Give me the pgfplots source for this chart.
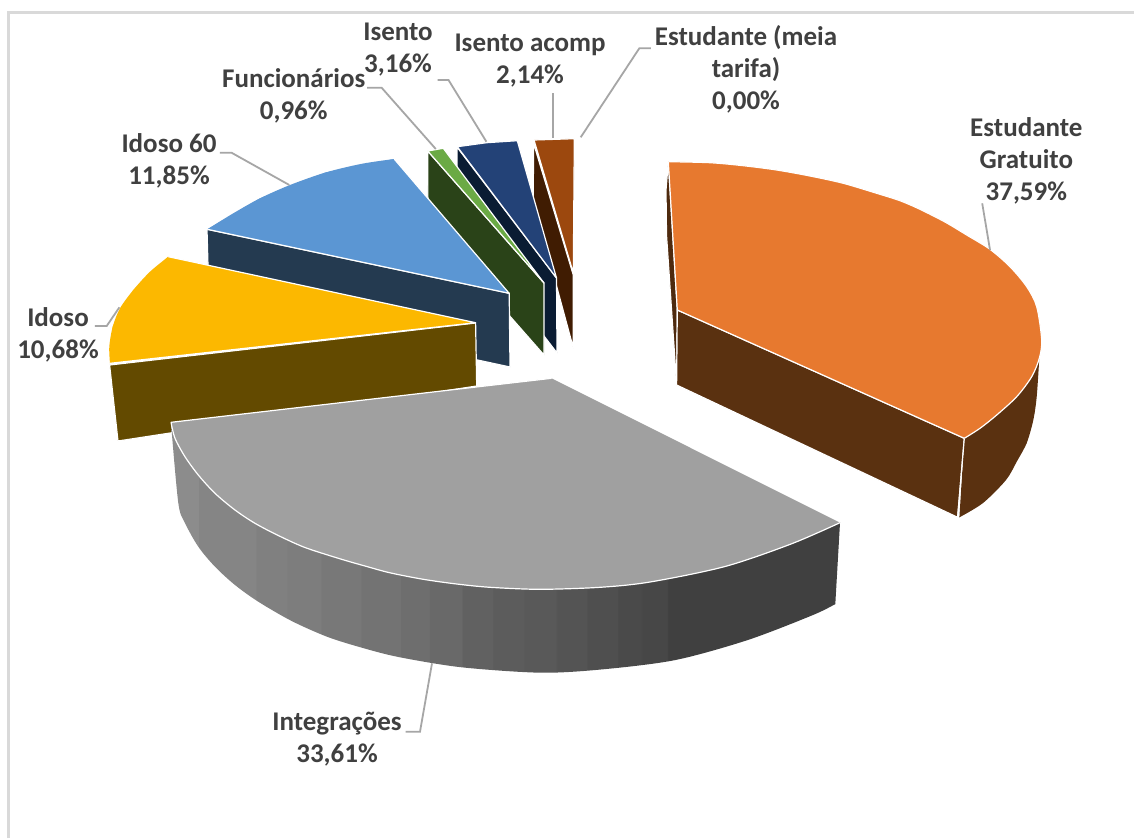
\documentclass[border=0pt]{standalone}
\usepackage{fontspec}
\setmainfont{Carlito}
\usepackage{pgfplots}
\pgfplotsset{compat=1.18}
\definecolor{txt}{HTML}{404040}
\definecolor{leader}{HTML}{A6A6A6}
\definecolor{acompSide}{HTML}{401C02}
\definecolor{acompTop}{HTML}{9C480E}
\definecolor{isentoSide}{HTML}{0A1C33}
\definecolor{isentoTop}{HTML}{234277}
\definecolor{funcSide}{HTML}{2A4318}
\definecolor{funcTop}{HTML}{6BAA45}
\definecolor{id60Side}{HTML}{243A50}
\definecolor{id60Top}{HTML}{5B96D3}
\definecolor{idosoSide}{HTML}{634A00}
\definecolor{idosoTop}{HTML}{FCB800}
\definecolor{integTop}{HTML}{A0A0A0}
\definecolor{gratSliver}{HTML}{4E2A0E}
\definecolor{gratSide}{HTML}{5A3110}
\definecolor{gratTop}{HTML}{E7792F}
% stepped grey of the rim of Integracoes
\pgfdeclarehorizontalshading{rimsh}{100bp}{
  color(0bp)=(black!45); color(27.03bp)=(black!45);
  color(27.1bp)=(black!48); color(31.36bp)=(black!48);
  color(31.43bp)=(black!50); color(33.68bp)=(black!50);
  color(33.75bp)=(black!51); color(36.26bp)=(black!51);
  color(36.33bp)=(black!53); color(39.26bp)=(black!53);
  color(39.33bp)=(black!55); color(42.25bp)=(black!55);
  color(42.32bp)=(black!57); color(44.42bp)=(black!57);
  color(44.49bp)=(black!59); color(46.88bp)=(black!59);
  color(46.95bp)=(black!62); color(49.19bp)=(black!62);
  color(49.26bp)=(black!64); color(51.5bp)=(black!64);
  color(51.57bp)=(black!65); color(53.96bp)=(black!65);
  color(54.03bp)=(black!67); color(56.27bp)=(black!67);
  color(56.34bp)=(black!69); color(58.59bp)=(black!69);
  color(58.66bp)=(black!71); color(60.36bp)=(black!71);
  color(60.43bp)=(black!72); color(62.33bp)=(black!72);
  color(62.4bp)=(black!75); color(100bp)=(black!75)}
\begin{document}
\begin{tikzpicture}[
  face/.style={fill=#1, draw=white, line width=1.2pt, line join=round},
  poly/.style={fill=#1, draw=none},
  seg/.style={smooth, fill=#1, draw=none},
  edge/.style={draw=white, line width=1.2pt, line join=round},
  lead/.style={draw=leader, line width=1.8pt},
  lab/.style={align=center, text=txt, font=\fontsize{27}{32}\selectfont\bfseries, inner sep=0pt},
]
\begin{axis}[
  scale only axis, width=1134pt, height=838pt,
  xmin=0, xmax=1134, ymin=0, ymax=838, y dir=reverse,
  hide axis,
]
% background and frame
\addplot[fill=white, draw=none] coordinates {(0,0) (1134,0) (1134,838) (0,838)} --cycle;
\addplot[draw=black!15, line width=2.5pt] coordinates {(8.5,838) (8.5,12.5) (1134,12.5)};

% Isento acomp
\addplot[face=acompSide] coordinates {(533.5,143) (573.3,275) (573.3,348) (533.3,200)} --cycle;
\addplot[face=acompTop] coordinates {(534,140) (574.3,138.7) (573.3,273)} --cycle;

% Isento
\addplot[face=isentoSide] coordinates {(457,147) (556.5,278) (557,353) (457,222)} --cycle;
\addplot[face=isentoTop] coordinates {(457.3,146.7) (486.7,142.7) (517.3,140.7) (556.5,278)} --cycle;

% Funcionarios
\addplot[face=funcSide] coordinates {(427.7,151) (544,283) (544,355) (428,223)} --cycle;
\addplot[face=funcTop] coordinates {(427.7,151) (443.3,148.3) (531.7,266.7) (544,283)} --cycle;

% Idoso 60
\addplot[face=id60Side] coordinates {(207,229.3) (509.2,293.3) (510,367) (209,302)} --cycle;
\addplot[poly=id60Top] coordinates {(207.3,229.3) (260,198.3) (325.5,172.5) (394.2,159) (509.2,293.3)} --cycle;
\addplot[seg=id60Top] coordinates {(207.3,229.3) (233.3,213.3) (260,198.3) (290,185) (325.5,172.5) (361.7,163.8) (394.2,159)};
\addplot[edge] coordinates {(394.2,159) (509.2,293.3) (207.3,229.3)};

% Idoso
\addplot[face=idosoSide] coordinates {(109.6,365) (475.6,323) (476.7,386) (118,441)} --cycle;
\addplot[poly=idosoTop] coordinates {(168.3,256.7) (133.3,290) (112.7,326.7) (110,363.3) (475.6,322.7)} --cycle;
\addplot[seg=idosoTop] coordinates {(168.3,256.7) (150,271.7) (133.3,290) (120,308.3) (112.7,326.7) (109.3,346.7) (110,363.3)};
\addplot[edge] coordinates {(168.3,256.7) (475.6,322.7) (110,363.3)};

% Integracoes, rim in one piece: curve, then its flat right end
\addplot[smooth, shading=rimsh, draw=none] coordinates {(171,423) (178.3,503) (185,523) (198.3,546.7) (215,566.7) (235,585) (258.3,601.7) (291.7,621) (327.8,637) (364,648.3) (400,657.3) (461.7,667.3) (541.2,672.7) (603,669.3) (675.5,660) (747.8,640) (813,615) (835.3,604)};
\addplot[poly=black!75] coordinates {(690,574) (840,522.7) (835.3,604) (690,656)} --cycle;
% Integracoes, top
\addplot[poly=integTop] coordinates {(551.5,378.3) (840,522.7) (725,566.5) (650,582) (540,589.3) (423.3,579.3) (340,558.8) (255,523.3) (198.3,475) (171,422.3)} --cycle;
\addplot[seg=integTop, draw=white, line width=1.2pt] coordinates {(840,522.7) (791,544) (725,566.5) (650,582) (600,587.3) (540,589.3) (490,587.3) (456.7,584) (423.3,579.3) (390,572.8) (365,566) (340,558.8) (305,547.5) (278.3,535.5) (255,523.3) (235,510) (215,493.3) (198.3,475) (185,456.7) (175,438.3) (171,422.3)};
\addplot[edge] coordinates {(171,422.3) (551.5,378.3)};

% Estudante Gratuito
\addplot[face=gratSliver] coordinates {(668.3,161.7) (677.3,310) (676.6,385) (666.5,235) (666,190)} --cycle;
\addplot[face=gratSide] coordinates {(677.3,310) (964.3,438.3) (957.6,517.3) (676.6,385)} --cycle;
\addplot[poly=gratSide] coordinates {(964.3,438.3) (1039.3,358) (1026.7,443) (959.4,517.3)} --cycle;
\addplot[seg=gratSide] coordinates {(1039.3,358) (1036.7,396.7) (1033.3,420) (1026.7,443) (1016.7,461.7) (1006,480) (983,503) (959.4,517.3)};
\addplot[edge] coordinates {(964.3,438.3) (957.6,517.3)};
\addplot[poly=gratTop] coordinates {(668.3,161.7) (776.7,170) (900,200.7) (966.7,235) (1026.7,286.7) (1041.7,340) (1016.7,396.7) (964.3,438.3) (677.3,310)} --cycle;
\addplot[seg=gratTop, draw=white, line width=1.2pt] coordinates {(668.3,161.7) (710,162.7) (743.3,165.7) (776.7,170) (810,176) (843.3,183.3) (876.7,193.3) (900,200.7) (920,209.3) (945,222) (966.7,235) (990,249.3) (1010,266.7) (1026.7,286.7) (1036.7,306.7) (1041.7,340) (1039.3,358.3) (1031.7,376.7) (1016.7,396.7) (996.7,415) (980,428.3) (964.3,438.3)};
\addplot[edge] coordinates {(964.3,438.3) (677.3,310) (668.3,161.7)};

% leader lines
\addplot[lead] coordinates {(982.2,203.3) (990,250)};
\addplot[lead] coordinates {(650.9,48.3) (639.3,48.3) (580.7,137.3)};
\addplot[lead] coordinates {(553.3,93.3) (553.3,138.3)};
\addplot[lead] coordinates {(437.6,80) (448.5,80) (486.4,141.7)};
\addplot[lead] coordinates {(367,87.7) (381.6,87.7) (435.8,149)};
\addplot[lead] coordinates {(219.9,152.7) (231.5,152.7) (289.3,185)};
\addplot[lead] coordinates {(94.8,326) (106.7,326) (119.4,307.3)};
\addplot[lead] coordinates {(405.6,731.7) (420,731.7) (432,663.3)};

% labels
\node[lab] at (axis cs:1026.3,161) {Estudante\\Gratuito\\37,59\%};
\node[lab] at (axis cs:746,69) {Estudante (meia\\tarifa)\\0,00\%};
\node[lab] at (axis cs:530,61) {Isento acomp\\2,14\%};
\node[lab] at (axis cs:398,50) {Isento\\3,16\%};
\node[lab] at (axis cs:293.7,96) {Funcionários\\0,96\%};
\node[lab] at (axis cs:169,161) {Idoso 60\\11,85\%};
\node[lab] at (axis cs:58,335) {Idoso\\10,68\%};
\node[lab] at (axis cs:337,739.5) {Integrações\\33,61\%};
\end{axis}
\end{tikzpicture}
\end{document}
